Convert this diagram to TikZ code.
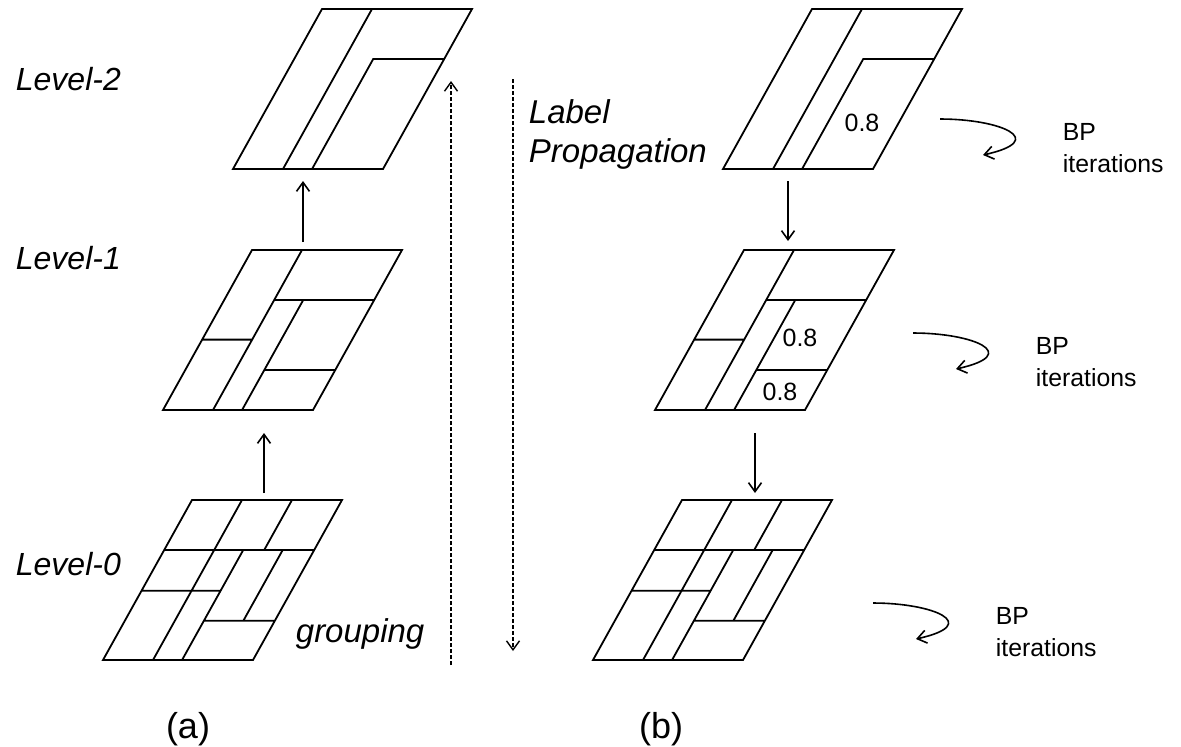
\documentclass[tikz,border=0pt]{standalone}
\usepackage{fontspec}
\setmainfont{Liberation Sans}
\usetikzlibrary{arrows.meta}

\tikzset{
  slab/.style={shift={#1}, x={(75pt,0pt)}, y={(44.5pt,80pt)}},
  levelname/.style={font=\fontsize{16}{19}\selectfont\itshape, anchor=west, inner sep=0pt},
  sidetext/.style={font=\fontsize{16.5}{19}\selectfont\itshape, anchor=base west, inner sep=0pt},
  bptext/.style={font=\fontsize{12.4}{15}\selectfont, anchor=base west, inner sep=0pt},
  prob/.style={font=\fontsize{12.5}{15}\selectfont, inner sep=0pt},
  trace/.style={->, line width=0.7pt, dash pattern=on 1.8pt off 1.2pt},
}

\begin{document}
\begin{tikzpicture}[x=0.5pt, y=-0.5pt, line width=0.9pt,
    >={Straight Barb[length=4.5pt,width=6.5pt]}]

      \useasboundingbox (0,0) rectangle (1181,746);

      % level 2
      \foreach \bx in {233, 723} {
          \draw[slab={(\bx,169)}] (0,0) -- (1,0) -- (1,1) -- (0,1) -- cycle
            (1/3,0) -- (1/3,1)
            (0.527,0) -- (0.527,0.6875) -- (1,0.6875);
        }
      % level 1
      \foreach \bx in {163, 655} {
          \draw[slab={(\bx,410)}] (0,0) -- (1,0) -- (1,1) -- (0,1) -- cycle
            (1/3,0) -- (1/3,1)
            (0.527,0) -- (0.527,0.6875)
            (1/3,0.6875) -- (1,0.6875)
            (0,0.44) -- (1/3,0.44)
            (0.527,0.25) -- (1,0.25);
        }
      % level 0
      \foreach \bx in {103, 593} {
          \draw[slab={(\bx,660)}] (0,0) -- (1,0) -- (1,1) -- (0,1) -- cycle
            (1/3,0) -- (1/3,1)
            (2/3,0.6875) -- (2/3,1)
            (0,0.6875) -- (1,0.6875)
            (0,0.433) -- (0.527,0.433)
            (0.527,0) -- (0.527,0.6875)
            (0.527,0.246) -- (1,0.246)
            (0.79,0.246) -- (0.79,0.6875);
        }

      \node[prob] (p2) at (862,123) {0.8};
      \node[prob] (p1a) at (800,338) {0.8};
      \node[prob] (p1b) at (780,392) {0.8};

      \node[levelname] (lvl2) at (15,79) {Level-2};
      \node[levelname] (lvl1) at (15,258) {Level-1};
      \node[levelname] (lvl0) at (15,564) {Level-0};

      \node[sidetext] (grp) at (295,642) {grouping};
      \node[sidetext] (lp1) at (528,123) {Label};
      \node[sidetext] (lp2) at (528,162) {Propagation};

      \node[font=\fontsize{18}{21}\selectfont, inner sep=0pt] (capa) at (188,729) {(a)};
      \node[font=\fontsize{18}{21}\selectfont, inner sep=0pt] (capb) at (661,729) {(b)};

      % grouping steps
      \coordinate (ga0) at (264,493);
      \coordinate (ga1) at (264,433);
      \coordinate (gb1) at (303,242);
      \coordinate (gb2) at (303,181);
      \draw[->, line width=0.8pt] (ga0) -- (ga1);
      \draw[->, line width=0.8pt] (gb1) -- (gb2);

      % propagation steps
      \coordinate (pa2) at (788,181);
      \coordinate (pa1) at (788,241);
      \coordinate (pb1) at (755,433);
      \coordinate (pb0) at (755,493);
      \draw[->, line width=0.8pt] (pa2) -- (pa1);
      \draw[->, line width=0.8pt] (pb1) -- (pb0);

      \coordinate (up0) at (451,665);
      \coordinate (up1) at (451,81);
      \coordinate (dn0) at (513,79);
      \coordinate (dn1) at (513,651);
      \draw[trace] (up0) -- (up1);
      \draw[trace] (dn0) -- (dn1);

      % BP loops
      \foreach \x/\y [count=\i] in {940/119, 913/333, 873/603} {
          \draw[->, line width=0.8pt] (\x,\y) .. controls ({\x+60},\y) and ({\x+110},{\y+21}) .. ({\x+43},{\y+36});
          \node[bptext] (bp\i) at ({\x+122},{\y+21.3}) {BP};
          \node[bptext] (it\i) at ({\x+122},{\y+53.3}) {iterations};
        }

    \end{tikzpicture}
\end{document}
